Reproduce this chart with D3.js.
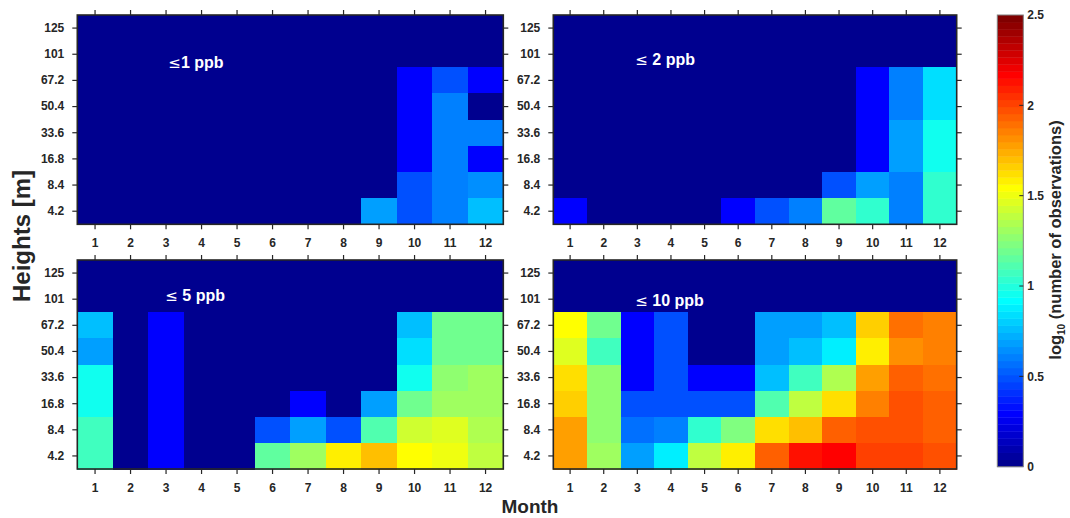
<!DOCTYPE html>
<html>
<head>
<meta charset="utf-8">
<script src="https://cdn.jsdelivr.net/npm/d3@7"></script>
<style>
  html, body { margin: 0; padding: 0; background: #fff; }
  svg { display: block; font-family: "Liberation Sans", Arial, Helvetica, sans-serif; }
</style>
</head>
<body>
<svg id="chart" width="1070" height="518"></svg>
<script>
// ---------- data ----------
const months = ["1","2","3","4","5","6","7","8","9","10","11","12"];
const heights = ["125","101","67.2","50.4","33.6","16.8","8.4","4.2"]; // top to bottom
const colorTicks = [0, 0.5, 1, 1.5, 2, 2.5];
const panelTitles = ["1 ppb", " 2 ppb", " 5 ppb", " 10 ppb"];

// log10(number of observations); rows follow `heights`, columns follow `months`
const le1ppb = [
  [0,0,0,0,0,0,0,0,0,0,0,0],
  [0,0,0,0,0,0,0,0,0,0,0,0],
  [0,0,0,0,0,0,0,0,0,0.30,0.48,0.30],
  [0,0,0,0,0,0,0,0,0,0.30,0.60,0],
  [0,0,0,0,0,0,0,0,0,0.30,0.60,0.60],
  [0,0,0,0,0,0,0,0,0,0.30,0.60,0.30],
  [0,0,0,0,0,0,0,0,0,0.48,0.60,0.65],
  [0,0,0,0,0,0,0,0,0.70,0.48,0.60,0.78]
];
const le2ppb = [
  [0,0,0,0,0,0,0,0,0,0,0,0],
  [0,0,0,0,0,0,0,0,0,0,0,0],
  [0,0,0,0,0,0,0,0,0,0.30,0.60,0.85],
  [0,0,0,0,0,0,0,0,0,0.30,0.60,0.85],
  [0,0,0,0,0,0,0,0,0,0.30,0.68,0.95],
  [0,0,0,0,0,0,0,0,0,0.30,0.68,0.95],
  [0,0,0,0,0,0,0,0,0.48,0.70,0.60,1.02],
  [0.30,0,0,0,0,0.30,0.48,0.60,1.17,1.02,0.60,1.02]
];
const le5ppb = [
  [0,0,0,0,0,0,0,0,0,0,0,0],
  [0,0,0,0,0,0,0,0,0,0,0,0],
  [0.78,0,0.30,0,0,0,0,0,0,0.78,1.20,1.20],
  [0.68,0,0.30,0,0,0,0,0,0,0.85,1.20,1.20],
  [0.95,0,0.30,0,0,0,0,0,0,0.95,1.28,1.30],
  [0.95,0,0.30,0,0,0,0.30,0,0.68,1.18,1.30,1.30],
  [1.08,0,0.30,0,0,0.48,0.70,0.48,1.12,1.42,1.45,1.36],
  [1.08,0,0.30,0,0,1.17,1.30,1.60,1.70,1.53,1.50,1.38]
];
const le10ppb = [
  [0,0,0,0,0,0,0,0,0,0,0,0],
  [0,0,0,0,0,0,0,0,0,0,0,0],
  [1.56,1.20,0.30,0.48,0,0,0.70,0.70,0.78,1.66,1.90,1.84],
  [1.48,1.08,0.30,0.48,0,0,0.70,0.78,0.88,1.58,1.81,1.86],
  [1.64,1.25,0.30,0.48,0.30,0.30,0.76,1.08,1.36,1.77,1.94,1.90],
  [1.67,1.25,0.48,0.48,0.48,0.48,1.10,1.38,1.64,1.84,1.96,1.92],
  [1.77,1.27,0.55,0.62,1.02,1.22,1.64,1.70,1.92,1.96,1.98,1.94],
  [1.79,1.30,0.68,0.86,1.40,1.58,1.94,2.12,2.16,2.01,2.01,1.96]
];
const panelData = [le1ppb, le2ppb, le5ppb, le10ppb];

// ---------- layout ----------
const panels = [
  {x0: 77.3,  x1: 503.3, y0: 15,  y1: 224.3, tx: 91, ty: 53},
  {x0: 553.3, x1: 956.7, y0: 15,  y1: 224.3, tx: 82, ty: 50},
  {x0: 77.3,  x1: 503.3, y0: 260, y1: 469,   tx: 88, ty: 41},
  {x0: 553.3, x1: 956.7, y0: 260, y1: 469,   tx: 82, ty: 46}
];
const axisColor = "#262626";
const cmin = 0, cmax = 2.5, nColors = 64;

// MATLAB jet(64)
function jetMap(m) {
  const n = Math.ceil(m / 4);
  const u = [];
  for (let i = 1; i <= n; i++) u.push(i / n);
  for (let i = 1; i < n; i++) u.push(1);
  for (let i = n; i >= 1; i--) u.push(i / n);
  const off = Math.ceil(n / 2) - (m % 4 === 1 ? 1 : 0);
  const cols = [];
  for (let k = 1; k <= m; k++) {
    const gi = k - off, ri = k - off - n, bi = k - off + n;
    const g = (gi >= 1 && gi <= u.length) ? u[gi - 1] : 0;
    const r = (ri >= 1 && ri <= u.length) ? u[ri - 1] : 0;
    const b = (bi >= 1 && bi <= u.length) ? u[bi - 1] : 0;
    cols.push(d3.rgb(r * 255, g * 255, b * 255).formatHex());
  }
  return cols;
}
const jet = jetMap(nColors);
const colorIndex = d3.scaleQuantize().domain([cmin, cmax]).range(d3.range(nColors));
function color(v) {
  const c = Math.max(cmin, Math.min(cmax - 1e-9, v));
  return jet[colorIndex(c)];
}

const svg = d3.select("#chart");

panels.forEach((p, pi) => {
  const x = d3.scaleBand().domain(months).range([p.x0, p.x1]);
  const y = d3.scaleBand().domain(heights).range([p.y0, p.y1]);
  const g = svg.append("g");
  const cells = [];
  panelData[pi].forEach((row, ri) => row.forEach((v, ci) => cells.push({h: heights[ri], m: months[ci], v})));
  g.selectAll("rect.cell").data(cells).enter().append("rect")
    .attr("class", "cell")
    .attr("shape-rendering", "crispEdges")
    .attr("x", d => x(d.m)).attr("y", d => y(d.h))
    .attr("width", x.bandwidth() + 0.6).attr("height", y.bandwidth() + 0.6)
    .attr("fill", d => color(d.v));

  // axes
  const fontSpec = sel => sel.selectAll("text").attr("font-size", 12).attr("font-weight", "bold").attr("fill", axisColor);
  const styleAxis = sel => { sel.select(".domain").remove(); sel.selectAll("line").attr("stroke", axisColor).attr("stroke-width", 1.2); };
  g.append("g").attr("transform", `translate(${p.x0},0)`)
    .call(d3.axisLeft(y).tickSize(5).tickPadding(8)).call(styleAxis).call(fontSpec);
  g.append("g").attr("transform", `translate(0,${p.y1})`)
    .call(d3.axisBottom(x).tickSize(5).tickPadding(9)).call(styleAxis).call(fontSpec);
  g.append("g").attr("transform", `translate(0,${p.y0})`)
    .call(d3.axisTop(x).tickSize(5).tickFormat("")).call(styleAxis);
  g.append("g").attr("transform", `translate(${p.x1},0)`)
    .call(d3.axisRight(y).tickSize(5).tickFormat("")).call(styleAxis);

  g.append("rect").attr("x", p.x0).attr("y", p.y0)
    .attr("width", p.x1 - p.x0).attr("height", p.y1 - p.y0)
    .attr("fill", "none").attr("stroke", axisColor).attr("stroke-width", 1.6);

  const t = g.append("text").attr("x", p.x0 + p.tx).attr("y", p.y0 + p.ty)
    .attr("fill", "#fff").attr("font-size", 16).attr("font-weight", "bold")
    .attr("xml:space", "preserve");
  t.append("tspan").attr("font-weight", "normal").attr("font-family", "'DejaVu Sans', sans-serif").attr("font-size", 15).text("≤");
  t.append("tspan").text(panelTitles[pi]);
});

// ---------- colorbar ----------
const cb = {x0: 997.3, x1: 1023.3, y0: 15, y1: 466.7};
const cy = d3.scaleLinear().domain([cmin, cmax]).range([cb.y1, cb.y0]);
const gcb = svg.append("g");
const bands = d3.range(nColors);
gcb.selectAll("rect.band").data(bands).enter().append("rect")
  .attr("x", cb.x0).attr("width", cb.x1 - cb.x0)
  .attr("y", i => cy(cmin + (i + 1) * (cmax - cmin) / nColors))
  .attr("height", i => cy(cmin + i * (cmax - cmin) / nColors) - cy(cmin + (i + 1) * (cmax - cmin) / nColors) + 0.4)
  .attr("fill", i => jet[i]);
gcb.append("rect").attr("x", cb.x0).attr("y", cb.y0).attr("width", cb.x1 - cb.x0).attr("height", cb.y1 - cb.y0)
  .attr("fill", "none").attr("stroke", "#808080").attr("stroke-width", 1);
const cbAxis = gcb.append("g").attr("transform", `translate(${cb.x1},0)`)
  .call(d3.axisRight(cy).tickValues(colorTicks).tickFormat(d3.format("")).tickSize(0).tickPadding(4));
cbAxis.select(".domain").remove();
cbAxis.selectAll("text").attr("font-size", 12).attr("font-weight", "bold").attr("fill", axisColor);
gcb.selectAll("line.cbt").data(colorTicks.slice(1, -1)).enter().append("line")
  .attr("x1", cb.x1 - 4).attr("x2", cb.x1).attr("y1", d => cy(d)).attr("y2", d => cy(d))
  .attr("stroke", axisColor).attr("stroke-width", 1);

const cbl = svg.append("text").attr("transform", "translate(1061,240) rotate(-90)")
  .attr("text-anchor", "middle").attr("font-size", 16.5).attr("font-weight", "bold").attr("fill", axisColor);
cbl.append("tspan").text("log");
cbl.append("tspan").attr("font-size", 10).attr("dy", 4).text("10");
cbl.append("tspan").attr("dy", -4).text(" (number of observations)");

// ---------- axis titles ----------
svg.append("text").attr("transform", "translate(30,236) rotate(-90)")
  .attr("text-anchor", "middle").attr("font-size", 24).attr("font-weight", "bold").attr("fill", axisColor)
  .text("Heights [m]");
svg.append("text").attr("x", 530).attr("y", 513)
  .attr("text-anchor", "middle").attr("font-size", 19).attr("font-weight", "bold").attr("fill", axisColor)
  .text("Month");
</script>
</body>
</html>
